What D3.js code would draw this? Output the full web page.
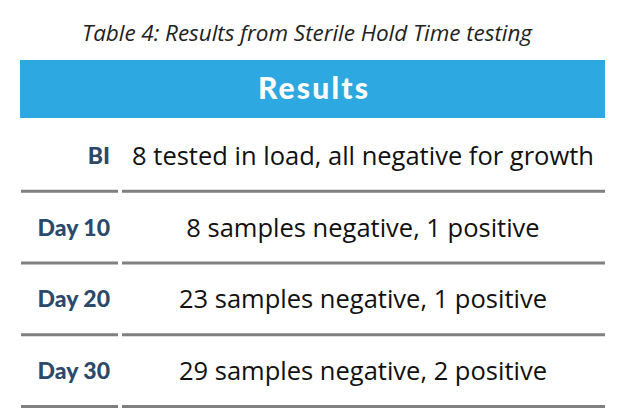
<!DOCTYPE html><html><head><meta charset="utf-8"><script src="https://cdn.jsdelivr.net/npm/d3@7"></script>
<style>body{margin:0;background:#fff}</style></head><body><svg id="c" width="630" height="420"></svg>
<script>
const title = "Table 4: Results from Sterile Hold Time testing";
const header = "Results";
const labels = ["BI","Day 10","Day 20","Day 30"];
const results = ["8 tested in load, all negative for growth","8 samples negative, 1 positive","23 samples negative, 1 positive","29 samples negative, 2 positive"];
const svg = d3.select("#c");
svg.append("text").attr("x",307).attr("y",41).attr("text-anchor","middle").attr("font-family","Open Sans").attr("font-style","italic").attr("font-size",22.5).attr("fill","#222").attr("textLength",450).text(title);
svg.append("rect").attr("x",20).attr("y",60).attr("width",585).attr("height",58).attr("fill","#2ea8e0");
svg.append("text").attr("x",313).attr("y",99).attr("text-anchor","middle").attr("font-family","Lato").attr("font-weight",900).attr("font-size",30).attr("fill","#fff").attr("textLength",110).text(header);
const y = d3.scaleBand().domain(labels).range([120,407]);
const g = svg.selectAll("g.r").data(labels).join("g").attr("transform",d=>`translate(0,${y(d)})`);
g.append("text").attr("x",110).attr("y",y.bandwidth()/2+8).attr("text-anchor","end").attr("font-family","Lato").attr("font-weight",900).attr("font-size",23).attr("fill","#2b4a6b").text(d=>d);
g.append("text").attr("x",363).attr("y",y.bandwidth()/2+9).attr("text-anchor","middle").attr("font-family","Open Sans").attr("font-size",25.5).attr("fill","#111").text((d,i)=>results[i]);
g.append("rect").attr("x",21).attr("y",y.bandwidth()-2).attr("width",97).attr("height",3).attr("fill","#808080");
g.append("rect").attr("x",122).attr("y",y.bandwidth()-2).attr("width",483).attr("height",3).attr("fill","#808080");
</script></body></html>
